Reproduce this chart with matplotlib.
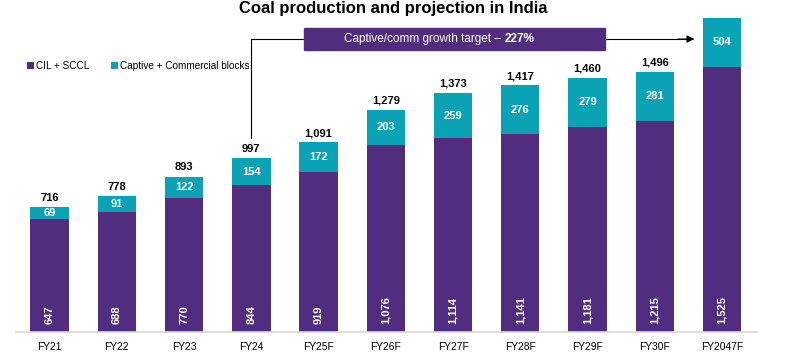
import matplotlib.pyplot as plt
from matplotlib.patches import Rectangle

plt.rcParams["font.family"] = ["Liberation Sans", "DejaVu Sans"]

years = ["FY21", "FY22", "FY23", "FY24", "FY25F", "FY26F", "FY27F",
         "FY28F", "FY29F", "FY30F", "FY2047F"]
cil_sccl = [647, 688, 770, 844, 919, 1076, 1114, 1141, 1181, 1215, 1525]
captive = [69, 91, 122, 154, 172, 203, 259, 276, 279, 281, 504]
totals = [716, 778, 893, 997, 1091, 1279, 1373, 1417, 1460, 1496, None]

PURPLE = "#512D7F"
TEAL = "#0AA3B5"
YMAX = 1805


def main():
    fig = plt.figure(figsize=(7.87, 3.55), dpi=100)
    ax = fig.add_axes([16 / 787, 1 - 332 / 355, 741 / 787, 314 / 355])

    x = list(range(len(years)))
    b1 = ax.bar(x, cil_sccl, width=0.57, color=PURPLE, label="CIL + SCCL")
    b2 = ax.bar(x, captive, width=0.57, bottom=cil_sccl, color=TEAL,
                label="Captive + Commercial blocks")

    ax.set_xlim(-0.5, 10.52)
    ax.set_ylim(0, YMAX)

    for i, (a, c, t) in enumerate(zip(cil_sccl, captive, totals)):
        ax.text(i, 45, f"{a:,}", rotation=90, ha="center", va="bottom",
                color="white", fontsize=8, fontweight="bold")
        top = min(a + c, YMAX)
        ax.text(i, (a + top) / 2, f"{c:,}", ha="center", va="center",
                color="white", fontsize=8, fontweight="bold")
        if t is not None:
            ax.annotate(f"{t:,}", (i, t), xytext=(0, 3), textcoords="offset points",
                        ha="center", va="bottom", fontsize=8, fontweight="bold")

    # growth target callout
    yline = 1684
    ax.plot([3, 3, 9.5], [1115, yline, yline], color="black", lw=0.8,
            clip_on=False, zorder=3)
    ax.annotate("", xy=(9.63, yline), xytext=(9.3, yline),
                arrowprops=dict(arrowstyle="-|>", color="black", lw=0.8,
                                mutation_scale=11), annotation_clip=False)
    ax.add_patch(Rectangle((3.79, 1620), 8.26 - 3.79, 127, color=PURPLE,
                           zorder=4, clip_on=False))
    split = 6.76
    ax.text(split, yline, "Captive/comm growth target – ", ha="right",
            va="center", color="white", fontsize=8.5, zorder=5)
    ax.text(split, yline, "227%", ha="left", va="center", color="white",
            fontsize=8.5, fontweight="bold", zorder=5)

    ax.set_xticks(x)
    ax.set_xticklabels(years, fontsize=7.4)
    ax.tick_params(axis="x", length=0, pad=7)
    ax.set_yticks([])
    for side in ["top", "left", "right"]:
        ax.spines[side].set_visible(False)
    ax.spines["bottom"].set_color("#D9D9D9")
    ax.spines["bottom"].set_linewidth(1.2)

    fig.text(0.5, 1 - 9 / 355, "Coal production and projection in India",
             ha="center", va="center", fontsize=12, fontweight="bold")

    fig.legend(handles=[b1, b2], loc="center left",
               bbox_to_anchor=(0.029, 1 - 66 / 355), ncol=2, frameon=False,
               fontsize=7.2, handlelength=0.7, handleheight=0.7,
               handletextpad=0.2, columnspacing=2.2, borderaxespad=0)

    fig.savefig("out.png", dpi=100)
    plt.close(fig)


if __name__ == "__main__":
    main()
